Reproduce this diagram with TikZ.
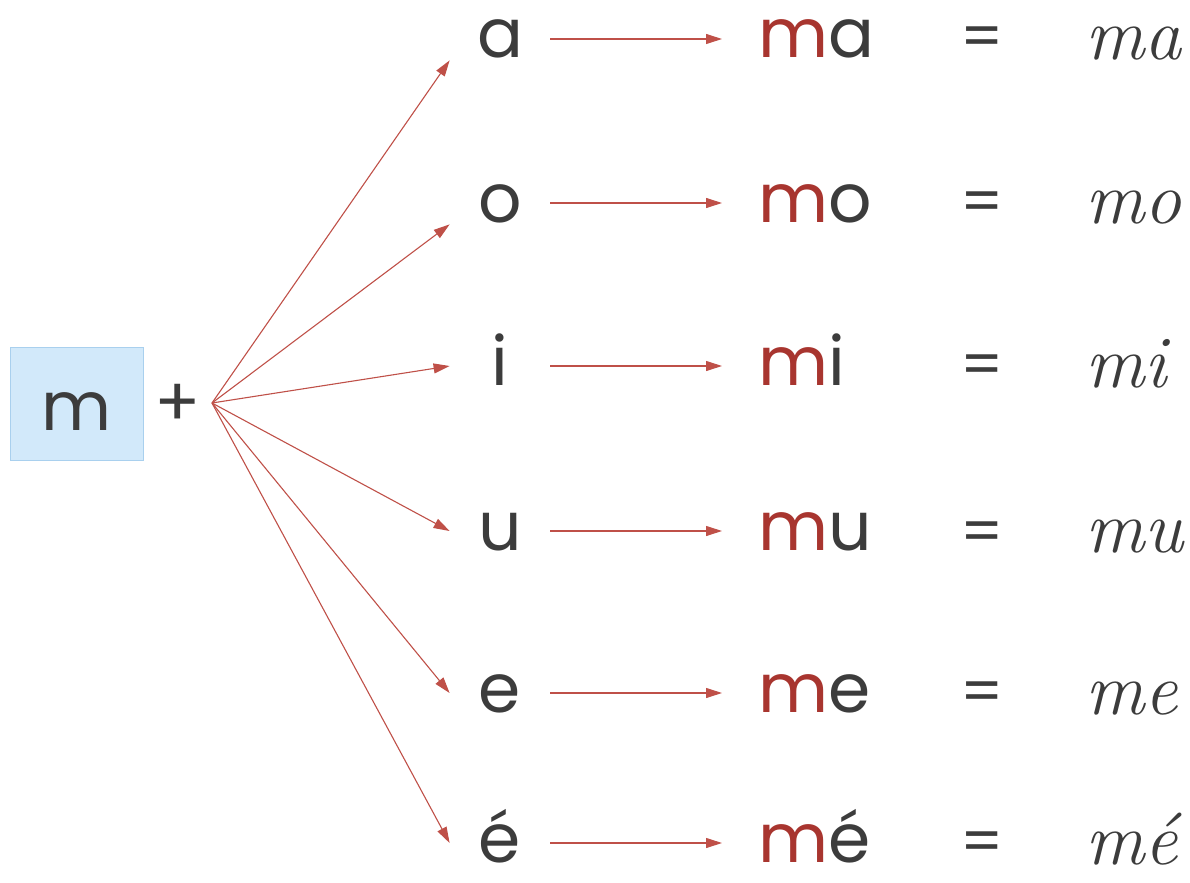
\documentclass[tikz,border=0pt]{standalone}
\usepackage{fontspec}
\newfontfamily\gothic{Poppins}
\usepackage{xcolor}
\usetikzlibrary{arrows.meta}

\definecolor{ink}{HTML}{3C3C3C}
\definecolor{mred}{HTML}{A8352F}
\definecolor{arrred}{HTML}{BF5048}
\definecolor{boxfill}{HTML}{D2E9FA}
\definecolor{boxline}{HTML}{A9D0EE}

\begin{document}
\begin{tikzpicture}[x=0.5pt, y=-0.5pt,
  big/.style={font=\gothic\fontsize{34}{34}\selectfont, text=ink},
  mbox/.style={big, draw=boxline, fill=boxfill, inner sep=0pt,
               minimum width=66.5pt, minimum height=56.5pt,
               text height=26.5pt, text depth=0pt},
  vowel/.style={big, anchor=base, minimum width=50pt, inner xsep=0pt,
                inner ysep=1pt, text height=19pt, text depth=0pt},
  syl/.style={big, anchor=base west, inner xsep=18pt, inner ysep=1pt,
              text height=19pt, text depth=0pt},
  eq/.style={anchor=base, text=ink, font=\gothic\fontsize{30}{30}\selectfont},
  cur/.style={anchor=base west, inner sep=0pt, text=ink,
              font=\itshape\fontsize{37}{37}\selectfont},
  arr/.style={-{Triangle[length=8pt,width=5pt]}, line width=0.55pt, arrred}
]
  \useasboundingbox (0,0) rectangle (1190,883);

  \node[mbox] (mbox) at (76.5,403.5) {m};
  \node[big]  (plus) at (178,405) {+};
  \coordinate (hub) at (212,403);

  % vowels
  \node[vowel] (va)  at (500,58)  {a};
  \node[vowel] (vo)  at (500,222) {o};
  \node[vowel] (vi)  at (500,385) {i};
  \node[vowel] (vu)  at (500,550) {u};
  \node[vowel] (ve)  at (500,712) {e};
  \node[vowel] (vea) at (500,862) {é};

  % syllables
  \node[syl] (sa)  at (722,58)  {\textcolor{mred}{m}a};
  \node[syl] (so)  at (722,222) {\textcolor{mred}{m}o};
  \node[syl] (si)  at (722,385) {\textcolor{mred}{m}i};
  \node[syl] (su)  at (722,550) {\textcolor{mred}{m}u};
  \node[syl] (se)  at (722,712) {\textcolor{mred}{m}e};
  \node[syl] (sea) at (722,862) {\textcolor{mred}{m}é};

  % equals and script forms
  \node[eq] (ea)  at (982,58)  {=};
  \node[eq] (eo)  at (982,222) {=};
  \node[eq] (ei)  at (982,385) {=};
  \node[eq] (eu)  at (982,552) {=};
  \node[eq] (ee)  at (982,712) {=};
  \node[eq] (eea) at (982,862) {=};
  \node[cur] (ca)  at (1085,60)  {ma};
  \node[cur] (co)  at (1085,224) {mo};
  \node[cur] (ci)  at (1085,387) {mi};
  \node[cur] (cu)  at (1085,552) {mu};
  \node[cur] (ce)  at (1085,714) {me};
  \node[cur] (cea) at (1085,864) {mé};

  \draw[arr] (hub) -- (va.south west);
  \draw[arr] (hub) -- (vo.south west);
  \draw[arr] (hub) -- (vi.west);
  \draw[arr] (hub) -- (vu.west);
  \draw[arr] (hub) -- (ve.west);
  \draw[arr] (hub) -- (vea.west);

  \draw[arr] (va.east)  -- (sa.west);
  \draw[arr] (vo.east)  -- (so.west);
  \draw[arr] (vi.east)  -- (si.west);
  \draw[arr] (vu.east)  -- (su.west);
  \draw[arr] (ve.east)  -- (se.west);
  \draw[arr] (vea.east) -- (sea.west);
\end{tikzpicture}
\end{document}
